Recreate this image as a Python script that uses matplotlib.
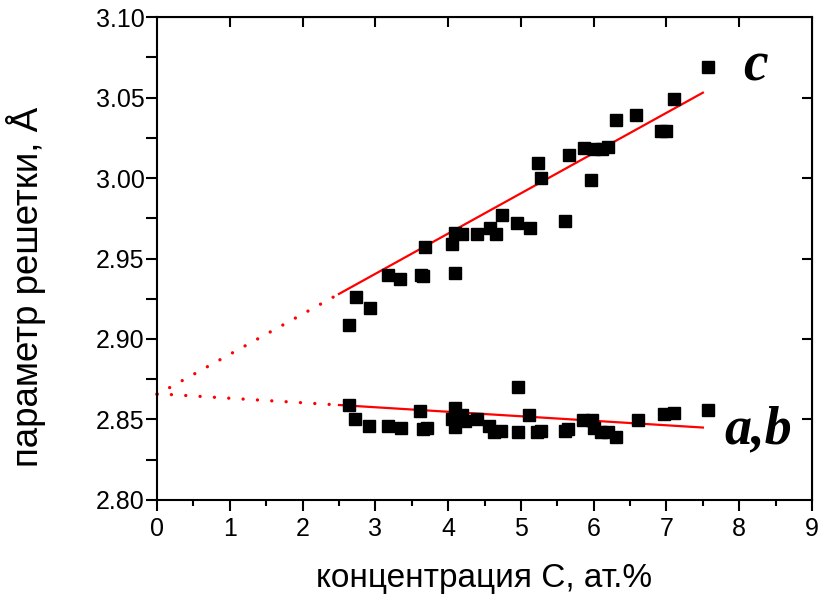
import numpy as np
import matplotlib
matplotlib.use('Agg')
import matplotlib.pyplot as plt

plt.rcParams['font.family'] = ['Liberation Sans', 'DejaVu Sans']

# параметр c
c_x = [2.64, 2.73, 2.92, 3.17, 3.34, 3.63, 3.66, 3.68, 4.05, 4.10, 4.10, 4.19,
       4.40, 4.58, 4.66, 4.74, 4.95, 5.13, 5.23, 5.27, 5.60, 5.66, 5.87, 5.96,
       6.01, 6.12, 6.19, 6.31, 6.58, 6.93, 6.99, 7.11, 7.57]
c_y = [2.909, 2.926, 2.919, 2.940, 2.937, 2.940, 2.939, 2.957, 2.959, 2.966, 2.941, 2.965,
       2.965, 2.969, 2.965, 2.977, 2.972, 2.969, 3.0095, 3.000, 2.973, 3.014, 3.0186, 2.999,
       3.018, 3.018, 3.019, 3.036, 3.039, 3.029, 3.029, 3.049, 3.069]

# параметры a,b
ab_x = [2.64, 2.72, 2.91, 3.17, 3.35, 3.61, 3.66, 3.71, 4.05, 4.10, 4.10, 4.19,
        4.23, 4.40, 4.56, 4.63, 4.73, 4.96, 4.96, 5.11, 5.22, 5.27, 5.60, 5.65,
        5.85, 5.98, 6.00, 6.10, 6.19, 6.31, 6.61, 6.97, 7.10, 7.57]
ab_y = [2.859, 2.850, 2.846, 2.846, 2.845, 2.855, 2.844, 2.845, 2.8505, 2.857, 2.8455, 2.853,
        2.849, 2.8505, 2.846, 2.842, 2.843, 2.870, 2.842, 2.8526, 2.842, 2.843, 2.843, 2.844,
        2.8497, 2.8497, 2.8445, 2.842, 2.842, 2.8393, 2.8497, 2.8534, 2.8542, 2.8557]

# линейные аппроксимации: (a0, k)
fit_c = (2.8655, 0.0250)
fit_ab = (2.8660, -0.0028)
x_solid = np.array([2.5, 7.5])
x_dot = np.array([0.0, 2.5])

fig = plt.figure(figsize=(8.18, 5.97), dpi=100)
ax = fig.add_axes([0.192, 0.1625, 0.8007, 0.809])

red = '#ff0000'
for a0, k in (fit_c, fit_ab):
    ax.plot(x_solid, a0 + k * x_solid, color=red, lw=1.6, zorder=2)
    ax.plot(x_dot, a0 + k * x_dot, color=red, lw=2.4,
            linestyle=(0, (0.01, 4.3)), dash_capstyle='round', zorder=2,
            clip_on=False)

ax.plot(c_x, c_y, 's', color='black', ms=8.3, mec='black', zorder=3)
ax.plot(ab_x, ab_y, 's', color='black', ms=8.3, mec='black', zorder=3)

ax.text(8.22, 3.069, 'c', fontsize=40, fontweight='bold', fontstyle='italic',
        family='Liberation Serif', ha='center', va='center')
ax.text(8.26, 2.8435, 'a,b', fontsize=39, fontweight='bold', fontstyle='italic',
        family='Liberation Serif', ha='center', va='center')

ax.set_xlim(0, 9)
ax.set_ylim(2.80, 3.10)
ax.set_xticks(np.arange(0, 10, 1))
ax.set_xticks(np.arange(0, 9.01, 0.5), minor=True)
ax.set_yticks(np.arange(2.80, 3.101, 0.05))
ax.set_yticks(np.arange(2.80, 3.101, 0.025), minor=True)
ax.yaxis.set_major_formatter(plt.FormatStrFormatter('%.2f'))

for s in ax.spines.values():
    s.set_linewidth(1.5)

ax.tick_params(axis='x', which='major', direction='out', length=8, width=1.5,
               labelsize=18, pad=4)
ax.tick_params(axis='x', which='minor', direction='out', length=4.5, width=1.5)
ax.tick_params(axis='y', which='major', direction='out', length=8, width=1.5,
               labelsize=18, pad=1)
ax.tick_params(axis='y', which='minor', direction='out', length=8, width=1.5)

top = ax.secondary_xaxis('top')
top.set_xticks(np.arange(1, 9, 1))
top.tick_params(direction='in', length=7, width=1.5, labeltop=False)
right = ax.secondary_yaxis('right')
right.set_yticks(np.arange(2.85, 3.06, 0.05))
right.tick_params(direction='in', length=7, width=1.5, labelright=False)

ax.set_xlabel('концентрация С, ат.%', fontsize=24, labelpad=16)
ax.set_ylabel('параметр решетки, Å', fontsize=26.5)
ax.yaxis.set_label_coords(-0.17, 0.441)

fig.savefig('out.png', dpi=100)
